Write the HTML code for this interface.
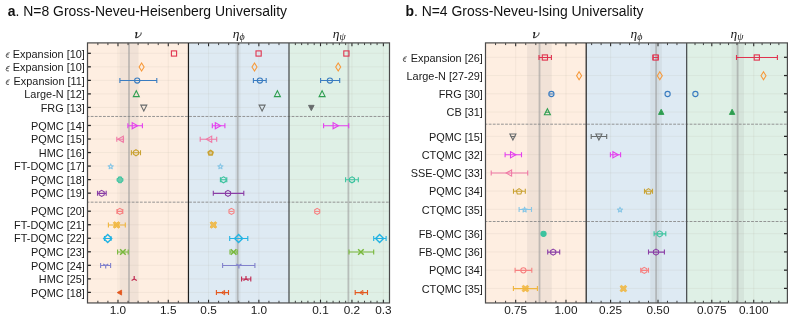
<!DOCTYPE html><html><head><meta charset="utf-8"><style>html,body{margin:0;padding:0;background:#fff;}svg{display:block;will-change:transform;font-family:"Liberation Sans",sans-serif;}</style></head><body>
<svg width="793" height="323" viewBox="0 0 793 323">
<rect width="793" height="323" fill="#fff"/>
<rect x="87.50" y="42.9" width="100.95" height="260.05" fill="#feeee1"/>
<rect x="188.45" y="42.9" width="100.55" height="260.05" fill="#deeaf3"/>
<rect x="289.00" y="42.9" width="100.50" height="260.05" fill="#dff0e6"/>
<rect x="119.40" y="42.9" width="19.20" height="260.05" fill="#8a8a8a" fill-opacity="0.11"/>
<rect x="235.00" y="42.9" width="5.60" height="260.05" fill="#8a8a8a" fill-opacity="0.11"/>
<line x1="87.5" x2="389.5" y1="53.30" y2="53.30" stroke="#b0a498" stroke-opacity="0.16" stroke-width="0.8"/>
<line x1="87.5" x2="389.5" y1="66.83" y2="66.83" stroke="#b0a498" stroke-opacity="0.16" stroke-width="0.8"/>
<line x1="87.5" x2="389.5" y1="80.37" y2="80.37" stroke="#b0a498" stroke-opacity="0.16" stroke-width="0.8"/>
<line x1="87.5" x2="389.5" y1="93.90" y2="93.90" stroke="#b0a498" stroke-opacity="0.16" stroke-width="0.8"/>
<line x1="87.5" x2="389.5" y1="107.44" y2="107.44" stroke="#b0a498" stroke-opacity="0.16" stroke-width="0.8"/>
<line x1="87.5" x2="389.5" y1="125.48" y2="125.48" stroke="#b0a498" stroke-opacity="0.16" stroke-width="0.8"/>
<line x1="87.5" x2="389.5" y1="139.02" y2="139.02" stroke="#b0a498" stroke-opacity="0.16" stroke-width="0.8"/>
<line x1="87.5" x2="389.5" y1="152.55" y2="152.55" stroke="#b0a498" stroke-opacity="0.16" stroke-width="0.8"/>
<line x1="87.5" x2="389.5" y1="166.08" y2="166.08" stroke="#b0a498" stroke-opacity="0.16" stroke-width="0.8"/>
<line x1="87.5" x2="389.5" y1="179.62" y2="179.62" stroke="#b0a498" stroke-opacity="0.16" stroke-width="0.8"/>
<line x1="87.5" x2="389.5" y1="193.15" y2="193.15" stroke="#b0a498" stroke-opacity="0.16" stroke-width="0.8"/>
<line x1="87.5" x2="389.5" y1="211.20" y2="211.20" stroke="#b0a498" stroke-opacity="0.16" stroke-width="0.8"/>
<line x1="87.5" x2="389.5" y1="224.73" y2="224.73" stroke="#b0a498" stroke-opacity="0.16" stroke-width="0.8"/>
<line x1="87.5" x2="389.5" y1="238.26" y2="238.26" stroke="#b0a498" stroke-opacity="0.16" stroke-width="0.8"/>
<line x1="87.5" x2="389.5" y1="251.80" y2="251.80" stroke="#b0a498" stroke-opacity="0.16" stroke-width="0.8"/>
<line x1="87.5" x2="389.5" y1="265.33" y2="265.33" stroke="#b0a498" stroke-opacity="0.16" stroke-width="0.8"/>
<line x1="87.5" x2="389.5" y1="278.87" y2="278.87" stroke="#b0a498" stroke-opacity="0.16" stroke-width="0.8"/>
<line x1="87.5" x2="389.5" y1="292.40" y2="292.40" stroke="#b0a498" stroke-opacity="0.16" stroke-width="0.8"/>
<line x1="117.98" x2="117.98" y1="42.9" y2="302.95" stroke="#b0a498" stroke-opacity="0.16" stroke-width="0.8"/>
<line x1="168.28" x2="168.28" y1="42.9" y2="302.95" stroke="#b0a498" stroke-opacity="0.16" stroke-width="0.8"/>
<line x1="208.55" x2="208.55" y1="42.9" y2="302.95" stroke="#b0a498" stroke-opacity="0.16" stroke-width="0.8"/>
<line x1="258.85" x2="258.85" y1="42.9" y2="302.95" stroke="#b0a498" stroke-opacity="0.16" stroke-width="0.8"/>
<line x1="320.50" x2="320.50" y1="42.9" y2="302.95" stroke="#b0a498" stroke-opacity="0.16" stroke-width="0.8"/>
<line x1="351.94" x2="351.94" y1="42.9" y2="302.95" stroke="#b0a498" stroke-opacity="0.16" stroke-width="0.8"/>
<line x1="383.38" x2="383.38" y1="42.9" y2="302.95" stroke="#b0a498" stroke-opacity="0.16" stroke-width="0.8"/>
<line x1="129.00" x2="129.00" y1="42.9" y2="302.95" stroke="#999999" stroke-opacity="0.58" stroke-width="1.8"/>
<line x1="237.70" x2="237.70" y1="42.9" y2="302.95" stroke="#999999" stroke-opacity="0.58" stroke-width="1.8"/>
<line x1="348.40" x2="348.40" y1="42.9" y2="302.95" stroke="#999999" stroke-opacity="0.58" stroke-width="1.8"/>
<line x1="87.5" x2="389.5" y1="116.46" y2="116.46" stroke="#8a8a8a" stroke-width="0.9" stroke-dasharray="2.8,1.3" stroke-dashoffset="0.9"/>
<line x1="87.5" x2="389.5" y1="202.17" y2="202.17" stroke="#8a8a8a" stroke-width="0.9" stroke-dasharray="2.8,1.3" stroke-dashoffset="0.9"/>
<rect x="171.40" y="50.90" width="5.2" height="5.2" stroke="#e0334f" stroke-width="1.1" fill="none" stroke-linejoin="miter"/>
<path d="M141.60 63.03 L144.10 67.03 L141.60 71.03 L139.10 67.03 Z" stroke="#f7993a" stroke-width="1.1" fill="none" stroke-linejoin="miter"/>
<g stroke="#3a7cc0" stroke-width="1.1" fill="none"><path d="M119.90 80.57 H156.80 M119.90 78.07 V83.07 M156.80 78.07 V83.07"/></g>
<circle cx="137.20" cy="80.57" r="2.6" stroke="#3a7cc0" stroke-width="1.1" fill="none" stroke-linejoin="miter"/>
<path d="M136.30 90.70 L139.30 96.60 L133.30 96.60 Z" stroke="#2e9e50" stroke-width="1.1" fill="none" stroke-linejoin="miter"/>
<path d="M143.80 111.04 L146.80 105.14 L140.80 105.14 Z" stroke="#676b6c" stroke-width="1.1" fill="none" stroke-linejoin="miter"/>
<g stroke="#e43fee" stroke-width="1.1" fill="none"><path d="M127.90 125.68 H142.40 M127.90 123.18 V128.18 M142.40 123.18 V128.18"/></g>
<path d="M137.60 125.68 L132.20 122.58 L132.20 128.78 Z" stroke="#e43fee" stroke-width="1.1" fill="none" stroke-linejoin="miter"/>
<g stroke="#f07aa6" stroke-width="1.1" fill="none"><path d="M116.80 139.22 H123.50 M116.80 136.72 V141.72 M123.50 136.72 V141.72"/></g>
<path d="M117.90 139.22 L123.30 136.12 L123.30 142.32 Z" stroke="#f07aa6" stroke-width="1.1" fill="none" stroke-linejoin="miter"/>
<g stroke="#c9a233" stroke-width="1.1" fill="none"><path d="M131.40 152.75 H140.50 M131.40 150.25 V155.25 M140.50 150.25 V155.25"/></g>
<path d="M136.00 149.75 L138.51 151.25 L138.51 154.25 L136.00 155.75 L133.49 154.25 L133.49 151.25 Z" stroke="#c9a233" stroke-width="1.1" fill="none" stroke-linejoin="miter"/>
<path d="M110.70 163.88 L111.41 165.61 L113.27 165.75 L111.84 166.95 L112.29 168.77 L110.70 167.78 L109.11 168.77 L109.56 166.95 L108.13 165.75 L109.99 165.61 Z" stroke="#88c6e6" stroke-width="1.1" fill="none" stroke-linejoin="round"/>
<path d="M118.55 176.92 L121.45 176.92 L121.45 178.37 L122.90 178.37 L122.90 181.27 L121.45 181.27 L121.45 182.72 L118.55 182.72 L118.55 181.27 L117.10 181.27 L117.10 178.37 L118.55 178.37 Z" stroke="#3cc39f" stroke-width="1.0" fill="#3cc39f" fill-opacity="0.75" stroke-linejoin="round"/>
<g stroke="#8a3ea6" stroke-width="1.1" fill="none"><path d="M97.50 193.35 H106.20 M97.50 190.85 V195.85 M106.20 190.85 V195.85"/></g>
<path d="M101.70 190.35 L104.21 191.85 L104.21 194.85 L101.70 196.35 L99.19 194.85 L99.19 191.85 Z" stroke="#8a3ea6" stroke-width="1.1" fill="none" stroke-linejoin="miter"/>
<g stroke="#f78080" stroke-width="1.1" fill="none"><path d="M117.00 211.40 H122.80 M117.00 208.90 V213.90 M122.80 208.90 V213.90"/></g>
<path d="M119.90 208.40 L122.41 209.90 L122.41 212.90 L119.90 214.40 L117.39 212.90 L117.39 209.90 Z" stroke="#f78080" stroke-width="1.1" fill="none" stroke-linejoin="miter"/>
<g stroke="#f0b53c" stroke-width="1.1" fill="none"><path d="M108.40 224.93 H125.30 M108.40 222.43 V227.43 M125.30 222.43 V227.43"/></g>
<path d="M116.60 223.06 L118.78 221.73 L119.80 222.75 L118.47 224.93 L119.80 227.11 L118.78 228.13 L116.60 226.80 L114.42 228.13 L113.40 227.11 L114.73 224.93 L113.40 222.75 L114.42 221.73 Z" stroke="#f0b53c" stroke-width="0.9" fill="#f0b53c" fill-opacity="0.85" stroke-linejoin="round"/>
<g stroke="#22b3e3" stroke-width="1.1" fill="none"><path d="M104.50 238.46 H111.00 M104.50 235.96 V240.96 M111.00 235.96 V240.96"/></g>
<path d="M107.70 234.46 L111.70 238.46 L107.70 242.46 L103.70 238.46 Z" stroke="#22b3e3" stroke-width="1.4" fill="none"/>
<g stroke="#78b83c" stroke-width="1.1" fill="none"><path d="M117.60 252.00 H128.20 M117.60 249.50 V254.50 M128.20 249.50 V254.50"/></g>
<path d="M120.10 249.30 L125.70 254.70 M120.10 254.70 L125.70 249.30" stroke="#78b83c" stroke-width="1.5"/>
<g stroke="#8282cc" stroke-width="1.1" fill="none"><path d="M100.60 265.53 H110.60 M100.60 263.03 V268.03 M110.60 263.03 V268.03"/></g>
<path d="M105.70 265.53 V268.53 M105.70 265.53 L103.10 264.03 M105.70 265.53 L108.30 264.03" stroke="#8282cc" stroke-width="1.2"/>
<path d="M134.20 279.07 V276.07 M134.20 279.07 L131.60 280.57 M134.20 279.07 L136.80 280.57" stroke="#c02850" stroke-width="1.2"/>
<path d="M118.00 292.60 H121.80" stroke="#e3581f" stroke-width="1.0"/>
<path d="M117.20 292.60 L121.60 290.10 L121.60 295.10 Z" stroke="#e3581f" stroke-width="0.8" fill="#e3581f"/>
<rect x="256.00" y="50.90" width="5.2" height="5.2" stroke="#e0334f" stroke-width="1.1" fill="none" stroke-linejoin="miter"/>
<path d="M254.50 63.03 L257.00 67.03 L254.50 71.03 L252.00 67.03 Z" stroke="#f7993a" stroke-width="1.1" fill="none" stroke-linejoin="miter"/>
<g stroke="#3a7cc0" stroke-width="1.1" fill="none"><path d="M253.40 80.57 H266.20 M253.40 78.07 V83.07 M266.20 78.07 V83.07"/></g>
<circle cx="259.90" cy="80.57" r="2.6" stroke="#3a7cc0" stroke-width="1.1" fill="none" stroke-linejoin="miter"/>
<path d="M277.40 90.70 L280.40 96.60 L274.40 96.60 Z" stroke="#2e9e50" stroke-width="1.1" fill="none" stroke-linejoin="miter"/>
<path d="M262.10 111.04 L265.10 105.14 L259.10 105.14 Z" stroke="#676b6c" stroke-width="1.1" fill="none" stroke-linejoin="miter"/>
<g stroke="#e43fee" stroke-width="1.1" fill="none"><path d="M212.30 125.68 H224.90 M212.30 123.18 V128.18 M224.90 123.18 V128.18"/></g>
<path d="M220.70 125.68 L215.30 122.58 L215.30 128.78 Z" stroke="#e43fee" stroke-width="1.1" fill="none" stroke-linejoin="miter"/>
<g stroke="#f07aa6" stroke-width="1.1" fill="none"><path d="M200.20 139.22 H216.70 M200.20 136.72 V141.72 M216.70 136.72 V141.72"/></g>
<path d="M206.30 139.22 L211.70 136.12 L211.70 142.32 Z" stroke="#f07aa6" stroke-width="1.1" fill="none" stroke-linejoin="miter"/>
<path d="M210.60 150.35 L213.07 152.15 L212.13 155.05 L209.07 155.05 L208.13 152.15 Z" stroke="#c9a233" stroke-width="1.6" fill="#c9a233" fill-opacity="0.4" stroke-linejoin="round"/>
<path d="M220.40 163.88 L221.11 165.61 L222.97 165.75 L221.54 166.95 L221.99 168.77 L220.40 167.78 L218.81 168.77 L219.26 166.95 L217.83 165.75 L219.69 165.61 Z" stroke="#88c6e6" stroke-width="1.1" fill="none" stroke-linejoin="round"/>
<g stroke="#3cc39f" stroke-width="1.1" fill="none"><path d="M220.40 179.82 H226.80 M220.40 177.32 V182.32 M226.80 177.32 V182.32"/></g>
<path d="M223.50 176.82 L226.01 178.32 L226.01 181.32 L223.50 182.82 L220.99 181.32 L220.99 178.32 Z" stroke="#3cc39f" stroke-width="1.1" fill="none" stroke-linejoin="miter"/>
<g stroke="#8a3ea6" stroke-width="1.1" fill="none"><path d="M213.30 193.35 H243.80 M213.30 190.85 V195.85 M243.80 190.85 V195.85"/></g>
<path d="M228.00 190.35 L230.51 191.85 L230.51 194.85 L228.00 196.35 L225.49 194.85 L225.49 191.85 Z" stroke="#8a3ea6" stroke-width="1.1" fill="none" stroke-linejoin="miter"/>
<path d="M229.50 211.40 H233.50" stroke="#f78080" stroke-width="1.0"/>
<path d="M231.50 208.40 L234.01 209.90 L234.01 212.90 L231.50 214.40 L228.99 212.90 L228.99 209.90 Z" stroke="#f78080" stroke-width="1.1" fill="none" stroke-linejoin="miter"/>
<path d="M213.40 223.06 L215.58 221.73 L216.60 222.75 L215.27 224.93 L216.60 227.11 L215.58 228.13 L213.40 226.80 L211.22 228.13 L210.20 227.11 L211.53 224.93 L210.20 222.75 L211.22 221.73 Z" stroke="#f0b53c" stroke-width="0.9" fill="#f0b53c" fill-opacity="0.85" stroke-linejoin="round"/>
<g stroke="#22b3e3" stroke-width="1.1" fill="none"><path d="M229.70 238.46 H247.80 M229.70 235.96 V240.96 M247.80 235.96 V240.96"/></g>
<path d="M238.60 234.46 L242.60 238.46 L238.60 242.46 L234.60 238.46 Z" stroke="#22b3e3" stroke-width="1.4" fill="none"/>
<g stroke="#78b83c" stroke-width="1.1" fill="none"><path d="M230.00 252.00 H237.20 M230.00 249.50 V254.50 M237.20 249.50 V254.50"/></g>
<path d="M230.80 249.30 L236.40 254.70 M230.80 254.70 L236.40 249.30" stroke="#78b83c" stroke-width="1.5"/>
<g stroke="#8282cc" stroke-width="1.1" fill="none"><path d="M222.60 265.53 H254.90 M222.60 263.03 V268.03 M254.90 263.03 V268.03"/></g>
<path d="M238.90 265.53 V268.53 M238.90 265.53 L236.30 264.03 M238.90 265.53 L241.50 264.03" stroke="#8282cc" stroke-width="1.2"/>
<g stroke="#c02850" stroke-width="1.1" fill="none"><path d="M241.60 279.07 H250.80 M241.60 276.57 V281.57 M250.80 276.57 V281.57"/></g>
<path d="M246.00 279.07 V276.07 M246.00 279.07 L243.40 280.57 M246.00 279.07 L248.60 280.57" stroke="#c02850" stroke-width="1.2"/>
<g stroke="#e3581f" stroke-width="1.1" fill="none"><path d="M216.40 292.60 H228.50 M216.40 290.10 V295.10 M228.50 290.10 V295.10"/></g>
<path d="M221.40 292.60 L224.60 290.40 L224.60 294.80 Z" stroke="#e3581f" stroke-width="1.0" fill="none"/>
<rect x="343.80" y="50.90" width="5.2" height="5.2" stroke="#e0334f" stroke-width="1.1" fill="none" stroke-linejoin="miter"/>
<path d="M338.20 63.03 L340.70 67.03 L338.20 71.03 L335.70 67.03 Z" stroke="#f7993a" stroke-width="1.1" fill="none" stroke-linejoin="miter"/>
<g stroke="#3a7cc0" stroke-width="1.1" fill="none"><path d="M320.60 80.57 H339.70 M320.60 78.07 V83.07 M339.70 78.07 V83.07"/></g>
<circle cx="329.90" cy="80.57" r="2.6" stroke="#3a7cc0" stroke-width="1.1" fill="none" stroke-linejoin="miter"/>
<path d="M322.10 90.70 L325.10 96.60 L319.10 96.60 Z" stroke="#2e9e50" stroke-width="1.1" fill="none" stroke-linejoin="miter"/>
<path d="M311.30 110.64 L314.10 105.34 L308.50 105.34 Z" stroke="#676b6c" stroke-width="0.9" fill="#676b6c"/>
<g stroke="#e43fee" stroke-width="1.1" fill="none"><path d="M323.60 125.68 H348.70 M323.60 123.18 V128.18 M348.70 123.18 V128.18"/></g>
<path d="M338.50 125.68 L333.10 122.58 L333.10 128.78 Z" stroke="#e43fee" stroke-width="1.1" fill="none" stroke-linejoin="miter"/>
<g stroke="#3cc39f" stroke-width="1.1" fill="none"><path d="M345.60 179.82 H358.30 M345.60 177.32 V182.32 M358.30 177.32 V182.32"/></g>
<path d="M352.00 176.82 L354.51 178.32 L354.51 181.32 L352.00 182.82 L349.49 181.32 L349.49 178.32 Z" stroke="#3cc39f" stroke-width="1.1" fill="none" stroke-linejoin="miter"/>
<path d="M315.00 211.40 H319.40" stroke="#f78080" stroke-width="1.0"/>
<path d="M317.20 208.40 L319.71 209.90 L319.71 212.90 L317.20 214.40 L314.69 212.90 L314.69 209.90 Z" stroke="#f78080" stroke-width="1.1" fill="none" stroke-linejoin="miter"/>
<g stroke="#22b3e3" stroke-width="1.1" fill="none"><path d="M373.70 238.46 H386.10 M373.70 235.96 V240.96 M386.10 235.96 V240.96"/></g>
<path d="M379.60 234.46 L383.60 238.46 L379.60 242.46 L375.60 238.46 Z" stroke="#22b3e3" stroke-width="1.4" fill="none"/>
<g stroke="#78b83c" stroke-width="1.1" fill="none"><path d="M349.00 252.00 H373.70 M349.00 249.50 V254.50 M373.70 249.50 V254.50"/></g>
<path d="M358.10 249.30 L363.70 254.70 M358.10 254.70 L363.70 249.30" stroke="#78b83c" stroke-width="1.5"/>
<g stroke="#e3581f" stroke-width="1.1" fill="none"><path d="M355.20 292.60 H367.50 M355.20 290.10 V295.10 M367.50 290.10 V295.10"/></g>
<path d="M359.70 292.60 L362.90 290.40 L362.90 294.80 Z" stroke="#e3581f" stroke-width="1.0" fill="none"/>
<line x1="97.86" x2="97.86" y1="302.95" y2="300.75" stroke="#2a2a2a" stroke-width="0.9"/>
<line x1="97.86" x2="97.86" y1="42.9" y2="45.1" stroke="#2a2a2a" stroke-width="0.9"/>
<line x1="107.92" x2="107.92" y1="302.95" y2="300.75" stroke="#2a2a2a" stroke-width="0.9"/>
<line x1="107.92" x2="107.92" y1="42.9" y2="45.1" stroke="#2a2a2a" stroke-width="0.9"/>
<line x1="128.04" x2="128.04" y1="302.95" y2="300.75" stroke="#2a2a2a" stroke-width="0.9"/>
<line x1="128.04" x2="128.04" y1="42.9" y2="45.1" stroke="#2a2a2a" stroke-width="0.9"/>
<line x1="138.10" x2="138.10" y1="302.95" y2="300.75" stroke="#2a2a2a" stroke-width="0.9"/>
<line x1="138.10" x2="138.10" y1="42.9" y2="45.1" stroke="#2a2a2a" stroke-width="0.9"/>
<line x1="148.16" x2="148.16" y1="302.95" y2="300.75" stroke="#2a2a2a" stroke-width="0.9"/>
<line x1="148.16" x2="148.16" y1="42.9" y2="45.1" stroke="#2a2a2a" stroke-width="0.9"/>
<line x1="158.22" x2="158.22" y1="302.95" y2="300.75" stroke="#2a2a2a" stroke-width="0.9"/>
<line x1="158.22" x2="158.22" y1="42.9" y2="45.1" stroke="#2a2a2a" stroke-width="0.9"/>
<line x1="178.34" x2="178.34" y1="302.95" y2="300.75" stroke="#2a2a2a" stroke-width="0.9"/>
<line x1="178.34" x2="178.34" y1="42.9" y2="45.1" stroke="#2a2a2a" stroke-width="0.9"/>
<line x1="117.98" x2="117.98" y1="302.95" y2="299.65" stroke="#2a2a2a" stroke-width="1.1"/>
<line x1="117.98" x2="117.98" y1="42.9" y2="46.199999999999996" stroke="#2a2a2a" stroke-width="1.1"/>
<text x="117.98" y="314.1" font-size="11.8" text-anchor="middle" fill="#1a1a1a">1.0</text>
<line x1="168.28" x2="168.28" y1="302.95" y2="299.65" stroke="#2a2a2a" stroke-width="1.1"/>
<line x1="168.28" x2="168.28" y1="42.9" y2="46.199999999999996" stroke="#2a2a2a" stroke-width="1.1"/>
<text x="168.28" y="314.1" font-size="11.8" text-anchor="middle" fill="#1a1a1a">1.5</text>
<line x1="198.49" x2="198.49" y1="302.95" y2="300.75" stroke="#2a2a2a" stroke-width="0.9"/>
<line x1="198.49" x2="198.49" y1="42.9" y2="45.1" stroke="#2a2a2a" stroke-width="0.9"/>
<line x1="218.61" x2="218.61" y1="302.95" y2="300.75" stroke="#2a2a2a" stroke-width="0.9"/>
<line x1="218.61" x2="218.61" y1="42.9" y2="45.1" stroke="#2a2a2a" stroke-width="0.9"/>
<line x1="228.67" x2="228.67" y1="302.95" y2="300.75" stroke="#2a2a2a" stroke-width="0.9"/>
<line x1="228.67" x2="228.67" y1="42.9" y2="45.1" stroke="#2a2a2a" stroke-width="0.9"/>
<line x1="238.73" x2="238.73" y1="302.95" y2="300.75" stroke="#2a2a2a" stroke-width="0.9"/>
<line x1="238.73" x2="238.73" y1="42.9" y2="45.1" stroke="#2a2a2a" stroke-width="0.9"/>
<line x1="248.79" x2="248.79" y1="302.95" y2="300.75" stroke="#2a2a2a" stroke-width="0.9"/>
<line x1="248.79" x2="248.79" y1="42.9" y2="45.1" stroke="#2a2a2a" stroke-width="0.9"/>
<line x1="268.91" x2="268.91" y1="302.95" y2="300.75" stroke="#2a2a2a" stroke-width="0.9"/>
<line x1="268.91" x2="268.91" y1="42.9" y2="45.1" stroke="#2a2a2a" stroke-width="0.9"/>
<line x1="278.97" x2="278.97" y1="302.95" y2="300.75" stroke="#2a2a2a" stroke-width="0.9"/>
<line x1="278.97" x2="278.97" y1="42.9" y2="45.1" stroke="#2a2a2a" stroke-width="0.9"/>
<line x1="208.55" x2="208.55" y1="302.95" y2="299.65" stroke="#2a2a2a" stroke-width="1.1"/>
<line x1="208.55" x2="208.55" y1="42.9" y2="46.199999999999996" stroke="#2a2a2a" stroke-width="1.1"/>
<text x="208.55" y="314.1" font-size="11.8" text-anchor="middle" fill="#1a1a1a">0.5</text>
<line x1="258.85" x2="258.85" y1="302.95" y2="299.65" stroke="#2a2a2a" stroke-width="1.1"/>
<line x1="258.85" x2="258.85" y1="42.9" y2="46.199999999999996" stroke="#2a2a2a" stroke-width="1.1"/>
<text x="258.85" y="314.1" font-size="11.8" text-anchor="middle" fill="#1a1a1a">1.0</text>
<line x1="295.35" x2="295.35" y1="302.95" y2="300.75" stroke="#2a2a2a" stroke-width="0.9"/>
<line x1="295.35" x2="295.35" y1="42.9" y2="45.1" stroke="#2a2a2a" stroke-width="0.9"/>
<line x1="301.64" x2="301.64" y1="302.95" y2="300.75" stroke="#2a2a2a" stroke-width="0.9"/>
<line x1="301.64" x2="301.64" y1="42.9" y2="45.1" stroke="#2a2a2a" stroke-width="0.9"/>
<line x1="307.92" x2="307.92" y1="302.95" y2="300.75" stroke="#2a2a2a" stroke-width="0.9"/>
<line x1="307.92" x2="307.92" y1="42.9" y2="45.1" stroke="#2a2a2a" stroke-width="0.9"/>
<line x1="314.21" x2="314.21" y1="302.95" y2="300.75" stroke="#2a2a2a" stroke-width="0.9"/>
<line x1="314.21" x2="314.21" y1="42.9" y2="45.1" stroke="#2a2a2a" stroke-width="0.9"/>
<line x1="326.79" x2="326.79" y1="302.95" y2="300.75" stroke="#2a2a2a" stroke-width="0.9"/>
<line x1="326.79" x2="326.79" y1="42.9" y2="45.1" stroke="#2a2a2a" stroke-width="0.9"/>
<line x1="333.08" x2="333.08" y1="302.95" y2="300.75" stroke="#2a2a2a" stroke-width="0.9"/>
<line x1="333.08" x2="333.08" y1="42.9" y2="45.1" stroke="#2a2a2a" stroke-width="0.9"/>
<line x1="339.36" x2="339.36" y1="302.95" y2="300.75" stroke="#2a2a2a" stroke-width="0.9"/>
<line x1="339.36" x2="339.36" y1="42.9" y2="45.1" stroke="#2a2a2a" stroke-width="0.9"/>
<line x1="345.65" x2="345.65" y1="302.95" y2="300.75" stroke="#2a2a2a" stroke-width="0.9"/>
<line x1="345.65" x2="345.65" y1="42.9" y2="45.1" stroke="#2a2a2a" stroke-width="0.9"/>
<line x1="358.23" x2="358.23" y1="302.95" y2="300.75" stroke="#2a2a2a" stroke-width="0.9"/>
<line x1="358.23" x2="358.23" y1="42.9" y2="45.1" stroke="#2a2a2a" stroke-width="0.9"/>
<line x1="364.52" x2="364.52" y1="302.95" y2="300.75" stroke="#2a2a2a" stroke-width="0.9"/>
<line x1="364.52" x2="364.52" y1="42.9" y2="45.1" stroke="#2a2a2a" stroke-width="0.9"/>
<line x1="370.80" x2="370.80" y1="302.95" y2="300.75" stroke="#2a2a2a" stroke-width="0.9"/>
<line x1="370.80" x2="370.80" y1="42.9" y2="45.1" stroke="#2a2a2a" stroke-width="0.9"/>
<line x1="377.09" x2="377.09" y1="302.95" y2="300.75" stroke="#2a2a2a" stroke-width="0.9"/>
<line x1="377.09" x2="377.09" y1="42.9" y2="45.1" stroke="#2a2a2a" stroke-width="0.9"/>
<line x1="320.50" x2="320.50" y1="302.95" y2="299.65" stroke="#2a2a2a" stroke-width="1.1"/>
<line x1="320.50" x2="320.50" y1="42.9" y2="46.199999999999996" stroke="#2a2a2a" stroke-width="1.1"/>
<text x="320.50" y="314.1" font-size="11.8" text-anchor="middle" fill="#1a1a1a">0.1</text>
<line x1="351.94" x2="351.94" y1="302.95" y2="299.65" stroke="#2a2a2a" stroke-width="1.1"/>
<line x1="351.94" x2="351.94" y1="42.9" y2="46.199999999999996" stroke="#2a2a2a" stroke-width="1.1"/>
<text x="351.94" y="314.1" font-size="11.8" text-anchor="middle" fill="#1a1a1a">0.2</text>
<line x1="383.38" x2="383.38" y1="302.95" y2="299.65" stroke="#2a2a2a" stroke-width="1.1"/>
<line x1="383.38" x2="383.38" y1="42.9" y2="46.199999999999996" stroke="#2a2a2a" stroke-width="1.1"/>
<text x="383.38" y="314.1" font-size="11.8" text-anchor="middle" fill="#1a1a1a">0.3</text>
<line x1="87.5" x2="90.9" y1="53.30" y2="53.30" stroke="#222" stroke-width="1.25"/>
<line x1="87.5" x2="90.9" y1="66.83" y2="66.83" stroke="#222" stroke-width="1.25"/>
<line x1="87.5" x2="90.9" y1="80.37" y2="80.37" stroke="#222" stroke-width="1.25"/>
<line x1="87.5" x2="90.9" y1="93.90" y2="93.90" stroke="#222" stroke-width="1.25"/>
<line x1="87.5" x2="90.9" y1="107.44" y2="107.44" stroke="#222" stroke-width="1.25"/>
<line x1="87.5" x2="90.9" y1="125.48" y2="125.48" stroke="#222" stroke-width="1.25"/>
<line x1="87.5" x2="90.9" y1="139.02" y2="139.02" stroke="#222" stroke-width="1.25"/>
<line x1="87.5" x2="90.9" y1="152.55" y2="152.55" stroke="#222" stroke-width="1.25"/>
<line x1="87.5" x2="90.9" y1="166.08" y2="166.08" stroke="#222" stroke-width="1.25"/>
<line x1="87.5" x2="90.9" y1="179.62" y2="179.62" stroke="#222" stroke-width="1.25"/>
<line x1="87.5" x2="90.9" y1="193.15" y2="193.15" stroke="#222" stroke-width="1.25"/>
<line x1="87.5" x2="90.9" y1="211.20" y2="211.20" stroke="#222" stroke-width="1.25"/>
<line x1="87.5" x2="90.9" y1="224.73" y2="224.73" stroke="#222" stroke-width="1.25"/>
<line x1="87.5" x2="90.9" y1="238.26" y2="238.26" stroke="#222" stroke-width="1.25"/>
<line x1="87.5" x2="90.9" y1="251.80" y2="251.80" stroke="#222" stroke-width="1.25"/>
<line x1="87.5" x2="90.9" y1="265.33" y2="265.33" stroke="#222" stroke-width="1.25"/>
<line x1="87.5" x2="90.9" y1="278.87" y2="278.87" stroke="#222" stroke-width="1.25"/>
<line x1="87.5" x2="90.9" y1="292.40" y2="292.40" stroke="#222" stroke-width="1.25"/>
<rect x="87.5" y="42.9" width="302.00" height="260.05" fill="none" stroke="#4a4a4a" stroke-width="1.2"/>
<line x1="188.45" x2="188.45" y1="42.9" y2="302.95" stroke="#1e1e1e" stroke-width="1.2"/>
<line x1="289.00" x2="289.00" y1="42.9" y2="302.95" stroke="#4e5254" stroke-width="1.3"/>
<path d="M9.70 52.70 Q6.50 52.40 6.10 55.90 Q6.10 57.90 8.90 57.40 M6.60 54.90 L8.60 54.70" stroke="#333" stroke-width="0.8" fill="none"/>
<text x="84.90" y="57.50" font-size="11.6" textLength="72.11" lengthAdjust="spacingAndGlyphs" text-anchor="end" fill="#1a1a1a">Expansion [10]</text>
<path d="M9.70 66.23 Q6.50 65.93 6.10 69.43 Q6.10 71.43 8.90 70.93 M6.60 68.43 L8.60 68.23" stroke="#333" stroke-width="0.8" fill="none"/>
<text x="84.90" y="71.03" font-size="11.6" textLength="72.11" lengthAdjust="spacingAndGlyphs" text-anchor="end" fill="#1a1a1a">Expansion [10]</text>
<path d="M9.70 79.77 Q6.50 79.47 6.10 82.97 Q6.10 84.97 8.90 84.47 M6.60 81.97 L8.60 81.77" stroke="#333" stroke-width="0.8" fill="none"/>
<text x="84.90" y="84.57" font-size="11.6" textLength="71.30" lengthAdjust="spacingAndGlyphs" text-anchor="end" fill="#1a1a1a">Expansion [11]</text>
<text x="84.90" y="98.10" font-size="11.6" textLength="60.59" lengthAdjust="spacingAndGlyphs" text-anchor="end" fill="#1a1a1a">Large-N [12]</text>
<text x="84.90" y="111.64" font-size="11.6" textLength="44.22" lengthAdjust="spacingAndGlyphs" text-anchor="end" fill="#1a1a1a">FRG [13]</text>
<text x="84.90" y="129.68" font-size="11.6" textLength="53.91" lengthAdjust="spacingAndGlyphs" text-anchor="end" fill="#1a1a1a">PQMC [14]</text>
<text x="84.90" y="143.22" font-size="11.6" textLength="53.91" lengthAdjust="spacingAndGlyphs" text-anchor="end" fill="#1a1a1a">PQMC [15]</text>
<text x="84.90" y="156.75" font-size="11.6" textLength="46.03" lengthAdjust="spacingAndGlyphs" text-anchor="end" fill="#1a1a1a">HMC [16]</text>
<text x="84.90" y="170.28" font-size="11.6" textLength="70.86" lengthAdjust="spacingAndGlyphs" text-anchor="end" fill="#1a1a1a">FT-DQMC [17]</text>
<text x="84.90" y="183.82" font-size="11.6" textLength="53.91" lengthAdjust="spacingAndGlyphs" text-anchor="end" fill="#1a1a1a">PQMC [18]</text>
<text x="84.90" y="197.35" font-size="11.6" textLength="53.91" lengthAdjust="spacingAndGlyphs" text-anchor="end" fill="#1a1a1a">PQMC [19]</text>
<text x="84.90" y="215.40" font-size="11.6" textLength="53.91" lengthAdjust="spacingAndGlyphs" text-anchor="end" fill="#1a1a1a">PQMC [20]</text>
<text x="84.90" y="228.93" font-size="11.6" textLength="70.86" lengthAdjust="spacingAndGlyphs" text-anchor="end" fill="#1a1a1a">FT-DQMC [21]</text>
<text x="84.90" y="242.46" font-size="11.6" textLength="70.86" lengthAdjust="spacingAndGlyphs" text-anchor="end" fill="#1a1a1a">FT-DQMC [22]</text>
<text x="84.90" y="256.00" font-size="11.6" textLength="53.91" lengthAdjust="spacingAndGlyphs" text-anchor="end" fill="#1a1a1a">PQMC [23]</text>
<text x="84.90" y="269.53" font-size="11.6" textLength="53.91" lengthAdjust="spacingAndGlyphs" text-anchor="end" fill="#1a1a1a">PQMC [24]</text>
<text x="84.90" y="283.07" font-size="11.6" textLength="46.03" lengthAdjust="spacingAndGlyphs" text-anchor="end" fill="#1a1a1a">HMC [25]</text>
<text x="84.90" y="296.60" font-size="11.6" textLength="53.91" lengthAdjust="spacingAndGlyphs" text-anchor="end" fill="#1a1a1a">PQMC [18]</text>
<path d="M135.17 33.0 L136.87 32.6 L135.67 37.9" stroke="#1a1a1a" stroke-width="1.25" fill="none" stroke-linejoin="round"/>
<path d="M135.67 37.9 C138.97 37.2 141.37 35.2 141.17 32.5" stroke="#1a1a1a" stroke-width="1.0" fill="none"/>
<text x="238.72" y="38" font-family="Liberation Serif" font-size="13.5" text-anchor="middle" fill="#1a1a1a"><tspan font-style="italic">η</tspan><tspan font-style="italic" font-size="10" dy="2.3">ϕ</tspan></text>
<text x="339.25" y="38" font-family="Liberation Serif" font-size="13.5" text-anchor="middle" fill="#1a1a1a"><tspan font-style="italic">η</tspan><tspan font-style="italic" font-size="10" dy="2.3">ψ</tspan></text>
<text x="7.8" y="16.1" font-size="14" textLength="279.24" lengthAdjust="spacingAndGlyphs" fill="#111"><tspan font-weight="bold">a</tspan>. N=8 Gross-Neveu-Heisenberg Universality</text>
<rect x="485.50" y="42.9" width="100.70" height="260.05" fill="#feeee1"/>
<rect x="586.20" y="42.9" width="100.45" height="260.05" fill="#deeaf3"/>
<rect x="686.65" y="42.9" width="100.75" height="260.05" fill="#dff0e6"/>
<rect x="527.10" y="42.9" width="24.70" height="260.05" fill="#8a8a8a" fill-opacity="0.11"/>
<rect x="650.30" y="42.9" width="11.60" height="260.05" fill="#8a8a8a" fill-opacity="0.11"/>
<rect x="731.60" y="42.9" width="12.40" height="260.05" fill="#8a8a8a" fill-opacity="0.11"/>
<line x1="485.5" x2="787.4" y1="57.30" y2="57.30" stroke="#b0a498" stroke-opacity="0.16" stroke-width="0.8"/>
<line x1="485.5" x2="787.4" y1="75.55" y2="75.55" stroke="#b0a498" stroke-opacity="0.16" stroke-width="0.8"/>
<line x1="485.5" x2="787.4" y1="93.79" y2="93.79" stroke="#b0a498" stroke-opacity="0.16" stroke-width="0.8"/>
<line x1="485.5" x2="787.4" y1="112.03" y2="112.03" stroke="#b0a498" stroke-opacity="0.16" stroke-width="0.8"/>
<line x1="485.5" x2="787.4" y1="136.36" y2="136.36" stroke="#b0a498" stroke-opacity="0.16" stroke-width="0.8"/>
<line x1="485.5" x2="787.4" y1="154.61" y2="154.61" stroke="#b0a498" stroke-opacity="0.16" stroke-width="0.8"/>
<line x1="485.5" x2="787.4" y1="172.85" y2="172.85" stroke="#b0a498" stroke-opacity="0.16" stroke-width="0.8"/>
<line x1="485.5" x2="787.4" y1="191.10" y2="191.10" stroke="#b0a498" stroke-opacity="0.16" stroke-width="0.8"/>
<line x1="485.5" x2="787.4" y1="209.34" y2="209.34" stroke="#b0a498" stroke-opacity="0.16" stroke-width="0.8"/>
<line x1="485.5" x2="787.4" y1="233.67" y2="233.67" stroke="#b0a498" stroke-opacity="0.16" stroke-width="0.8"/>
<line x1="485.5" x2="787.4" y1="251.91" y2="251.91" stroke="#b0a498" stroke-opacity="0.16" stroke-width="0.8"/>
<line x1="485.5" x2="787.4" y1="270.16" y2="270.16" stroke="#b0a498" stroke-opacity="0.16" stroke-width="0.8"/>
<line x1="485.5" x2="787.4" y1="288.40" y2="288.40" stroke="#b0a498" stroke-opacity="0.16" stroke-width="0.8"/>
<line x1="515.68" x2="515.68" y1="42.9" y2="302.95" stroke="#b0a498" stroke-opacity="0.16" stroke-width="0.8"/>
<line x1="565.98" x2="565.98" y1="42.9" y2="302.95" stroke="#b0a498" stroke-opacity="0.16" stroke-width="0.8"/>
<line x1="610.60" x2="610.60" y1="42.9" y2="302.95" stroke="#b0a498" stroke-opacity="0.16" stroke-width="0.8"/>
<line x1="658.00" x2="658.00" y1="42.9" y2="302.95" stroke="#b0a498" stroke-opacity="0.16" stroke-width="0.8"/>
<line x1="711.80" x2="711.80" y1="42.9" y2="302.95" stroke="#b0a498" stroke-opacity="0.16" stroke-width="0.8"/>
<line x1="753.72" x2="753.72" y1="42.9" y2="302.95" stroke="#b0a498" stroke-opacity="0.16" stroke-width="0.8"/>
<line x1="539.50" x2="539.50" y1="42.9" y2="302.95" stroke="#999999" stroke-opacity="0.58" stroke-width="1.8"/>
<line x1="656.10" x2="656.10" y1="42.9" y2="302.95" stroke="#999999" stroke-opacity="0.58" stroke-width="1.8"/>
<line x1="737.60" x2="737.60" y1="42.9" y2="302.95" stroke="#999999" stroke-opacity="0.58" stroke-width="1.8"/>
<line x1="485.5" x2="787.4" y1="124.20" y2="124.20" stroke="#8a8a8a" stroke-width="0.9" stroke-dasharray="2.8,1.3" stroke-dashoffset="0.9"/>
<line x1="485.5" x2="787.4" y1="221.51" y2="221.51" stroke="#8a8a8a" stroke-width="0.9" stroke-dasharray="2.8,1.3" stroke-dashoffset="0.9"/>
<g stroke="#e0334f" stroke-width="1.1" fill="none"><path d="M539.00 57.50 H551.40 M539.00 55.00 V60.00 M551.40 55.00 V60.00"/></g>
<rect x="542.30" y="54.90" width="5.2" height="5.2" stroke="#e0334f" stroke-width="1.1" fill="none" stroke-linejoin="miter"/>
<path d="M579.10 71.75 L581.60 75.75 L579.10 79.75 L576.60 75.75 Z" stroke="#f7993a" stroke-width="1.1" fill="none" stroke-linejoin="miter"/>
<path d="M549.00 93.99 H553.80" stroke="#3a7cc0" stroke-width="1.0"/>
<circle cx="551.40" cy="93.99" r="2.6" stroke="#3a7cc0" stroke-width="1.1" fill="none" stroke-linejoin="miter"/>
<path d="M545.50 112.23 H549.30" stroke="#2e9e50" stroke-width="1.0"/>
<path d="M547.40 108.83 L550.40 114.73 L544.40 114.73 Z" stroke="#2e9e50" stroke-width="1.1" fill="none" stroke-linejoin="miter"/>
<path d="M510.50 136.56 H515.30" stroke="#676b6c" stroke-width="1.0"/>
<path d="M512.90 139.96 L515.90 134.06 L509.90 134.06 Z" stroke="#676b6c" stroke-width="1.1" fill="none" stroke-linejoin="miter"/>
<g stroke="#e43fee" stroke-width="1.1" fill="none"><path d="M505.10 154.81 H521.50 M505.10 152.31 V157.31 M521.50 152.31 V157.31"/></g>
<path d="M515.90 154.81 L510.50 151.71 L510.50 157.91 Z" stroke="#e43fee" stroke-width="1.1" fill="none" stroke-linejoin="miter"/>
<g stroke="#f07aa6" stroke-width="1.1" fill="none"><path d="M491.20 173.05 H527.70 M491.20 170.55 V175.55 M527.70 170.55 V175.55"/></g>
<path d="M506.20 173.05 L511.60 169.95 L511.60 176.15 Z" stroke="#f07aa6" stroke-width="1.1" fill="none" stroke-linejoin="miter"/>
<g stroke="#c9a233" stroke-width="1.1" fill="none"><path d="M513.50 191.30 H525.30 M513.50 188.80 V193.80 M525.30 188.80 V193.80"/></g>
<path d="M519.10 188.60 L521.95 190.67 L520.86 194.02 L517.34 194.02 L516.25 190.67 Z" stroke="#c9a233" stroke-width="1.1" fill="none" stroke-linejoin="miter"/>
<g stroke="#88c6e6" stroke-width="1.1" fill="none"><path d="M519.10 209.54 H531.50 M519.10 207.04 V212.04 M531.50 207.04 V212.04"/></g>
<path d="M524.60 207.14 L525.31 208.87 L527.17 209.01 L525.74 210.21 L526.19 212.03 L524.60 211.04 L523.01 212.03 L523.46 210.21 L522.03 209.01 L523.89 208.87 Z" stroke="#88c6e6" stroke-width="1.1" fill="none" stroke-linejoin="round"/>
<circle cx="543.50" cy="233.87" r="2.6" stroke="#3cc39f" stroke-width="1.1" fill="#3cc39f" stroke-linejoin="miter"/>
<g stroke="#8a3ea6" stroke-width="1.1" fill="none"><path d="M547.70 252.11 H559.70 M547.70 249.61 V254.61 M559.70 249.61 V254.61"/></g>
<path d="M553.20 249.11 L555.71 250.61 L555.71 253.61 L553.20 255.11 L550.69 253.61 L550.69 250.61 Z" stroke="#8a3ea6" stroke-width="1.1" fill="none" stroke-linejoin="miter"/>
<g stroke="#f78080" stroke-width="1.1" fill="none"><path d="M515.10 270.36 H531.80 M515.10 267.86 V272.86 M531.80 267.86 V272.86"/></g>
<circle cx="523.40" cy="270.36" r="2.6" stroke="#f78080" stroke-width="1.1" fill="none" stroke-linejoin="miter"/>
<g stroke="#f0b53c" stroke-width="1.1" fill="none"><path d="M513.40 288.60 H537.40 M513.40 286.10 V291.10 M537.40 286.10 V291.10"/></g>
<path d="M525.40 286.73 L527.58 285.40 L528.60 286.42 L527.27 288.60 L528.60 290.78 L527.58 291.80 L525.40 290.47 L523.22 291.80 L522.20 290.78 L523.53 288.60 L522.20 286.42 L523.22 285.40 Z" stroke="#f0b53c" stroke-width="0.9" fill="#f0b53c" fill-opacity="0.85" stroke-linejoin="round"/>
<g stroke="#e0334f" stroke-width="1.1" fill="none"><path d="M653.00 57.50 H658.20 M653.00 55.00 V60.00 M658.20 55.00 V60.00"/></g>
<rect x="653.00" y="54.90" width="5.2" height="5.2" stroke="#e0334f" stroke-width="1.1" fill="none" stroke-linejoin="miter"/>
<path d="M659.80 71.75 L662.30 75.75 L659.80 79.75 L657.30 75.75 Z" stroke="#f7993a" stroke-width="1.1" fill="none" stroke-linejoin="miter"/>
<circle cx="667.60" cy="93.99" r="2.6" stroke="#3a7cc0" stroke-width="1.1" fill="none" stroke-linejoin="miter"/>
<path d="M661.20 109.23 L663.90 114.44 L658.50 114.44 Z" stroke="#2e9e50" stroke-width="0.9" fill="#2e9e50"/>
<g stroke="#676b6c" stroke-width="1.1" fill="none"><path d="M591.20 136.56 H606.70 M591.20 134.06 V139.06 M606.70 134.06 V139.06"/></g>
<path d="M598.90 139.96 L601.90 134.06 L595.90 134.06 Z" stroke="#676b6c" stroke-width="1.1" fill="none" stroke-linejoin="miter"/>
<g stroke="#e43fee" stroke-width="1.1" fill="none"><path d="M610.40 154.81 H620.60 M610.40 152.31 V157.31 M620.60 152.31 V157.31"/></g>
<path d="M618.30 154.81 L612.90 151.71 L612.90 157.91 Z" stroke="#e43fee" stroke-width="1.1" fill="none" stroke-linejoin="miter"/>
<g stroke="#c9a233" stroke-width="1.1" fill="none"><path d="M644.50 191.30 H652.50 M644.50 188.80 V193.80 M652.50 188.80 V193.80"/></g>
<path d="M648.50 188.60 L651.35 190.67 L650.26 194.02 L646.74 194.02 L645.65 190.67 Z" stroke="#c9a233" stroke-width="1.1" fill="none" stroke-linejoin="miter"/>
<path d="M620.00 207.14 L620.71 208.87 L622.57 209.01 L621.14 210.21 L621.59 212.03 L620.00 211.04 L618.41 212.03 L618.86 210.21 L617.43 209.01 L619.29 208.87 Z" stroke="#88c6e6" stroke-width="1.1" fill="none" stroke-linejoin="round"/>
<g stroke="#3cc39f" stroke-width="1.1" fill="none"><path d="M654.10 233.87 H665.80 M654.10 231.37 V236.37 M665.80 231.37 V236.37"/></g>
<path d="M659.70 230.87 L662.21 232.37 L662.21 235.37 L659.70 236.87 L657.19 235.37 L657.19 232.37 Z" stroke="#3cc39f" stroke-width="1.1" fill="none" stroke-linejoin="miter"/>
<g stroke="#8a3ea6" stroke-width="1.1" fill="none"><path d="M648.50 252.11 H664.40 M648.50 249.61 V254.61 M664.40 249.61 V254.61"/></g>
<path d="M656.00 249.11 L658.51 250.61 L658.51 253.61 L656.00 255.11 L653.49 253.61 L653.49 250.61 Z" stroke="#8a3ea6" stroke-width="1.1" fill="none" stroke-linejoin="miter"/>
<g stroke="#f78080" stroke-width="1.1" fill="none"><path d="M640.70 270.36 H648.50 M640.70 267.86 V272.86 M648.50 267.86 V272.86"/></g>
<path d="M644.30 267.36 L646.81 268.86 L646.81 271.86 L644.30 273.36 L641.79 271.86 L641.79 268.86 Z" stroke="#f78080" stroke-width="1.1" fill="none" stroke-linejoin="miter"/>
<path d="M623.40 286.73 L625.58 285.40 L626.60 286.42 L625.27 288.60 L626.60 290.78 L625.58 291.80 L623.40 290.47 L621.22 291.80 L620.20 290.78 L621.53 288.60 L620.20 286.42 L621.22 285.40 Z" stroke="#f0b53c" stroke-width="0.9" fill="#f0b53c" fill-opacity="0.85" stroke-linejoin="round"/>
<g stroke="#e0334f" stroke-width="1.1" fill="none"><path d="M736.50 57.50 H777.40 M736.50 55.00 V60.00 M777.40 55.00 V60.00"/></g>
<rect x="754.20" y="54.90" width="5.2" height="5.2" stroke="#e0334f" stroke-width="1.1" fill="none" stroke-linejoin="miter"/>
<path d="M763.50 71.75 L766.00 75.75 L763.50 79.75 L761.00 75.75 Z" stroke="#f7993a" stroke-width="1.1" fill="none" stroke-linejoin="miter"/>
<circle cx="695.40" cy="93.99" r="2.6" stroke="#3a7cc0" stroke-width="1.1" fill="none" stroke-linejoin="miter"/>
<path d="M732.10 109.23 L734.80 114.44 L729.40 114.44 Z" stroke="#2e9e50" stroke-width="0.9" fill="#2e9e50"/>
<line x1="495.56" x2="495.56" y1="302.95" y2="300.75" stroke="#2a2a2a" stroke-width="0.9"/>
<line x1="495.56" x2="495.56" y1="42.9" y2="45.1" stroke="#2a2a2a" stroke-width="0.9"/>
<line x1="505.62" x2="505.62" y1="302.95" y2="300.75" stroke="#2a2a2a" stroke-width="0.9"/>
<line x1="505.62" x2="505.62" y1="42.9" y2="45.1" stroke="#2a2a2a" stroke-width="0.9"/>
<line x1="525.74" x2="525.74" y1="302.95" y2="300.75" stroke="#2a2a2a" stroke-width="0.9"/>
<line x1="525.74" x2="525.74" y1="42.9" y2="45.1" stroke="#2a2a2a" stroke-width="0.9"/>
<line x1="535.80" x2="535.80" y1="302.95" y2="300.75" stroke="#2a2a2a" stroke-width="0.9"/>
<line x1="535.80" x2="535.80" y1="42.9" y2="45.1" stroke="#2a2a2a" stroke-width="0.9"/>
<line x1="545.86" x2="545.86" y1="302.95" y2="300.75" stroke="#2a2a2a" stroke-width="0.9"/>
<line x1="545.86" x2="545.86" y1="42.9" y2="45.1" stroke="#2a2a2a" stroke-width="0.9"/>
<line x1="555.92" x2="555.92" y1="302.95" y2="300.75" stroke="#2a2a2a" stroke-width="0.9"/>
<line x1="555.92" x2="555.92" y1="42.9" y2="45.1" stroke="#2a2a2a" stroke-width="0.9"/>
<line x1="576.04" x2="576.04" y1="302.95" y2="300.75" stroke="#2a2a2a" stroke-width="0.9"/>
<line x1="576.04" x2="576.04" y1="42.9" y2="45.1" stroke="#2a2a2a" stroke-width="0.9"/>
<line x1="515.68" x2="515.68" y1="302.95" y2="299.65" stroke="#2a2a2a" stroke-width="1.1"/>
<line x1="515.68" x2="515.68" y1="42.9" y2="46.199999999999996" stroke="#2a2a2a" stroke-width="1.1"/>
<text x="515.68" y="314.1" font-size="11.8" text-anchor="middle" fill="#1a1a1a">0.75</text>
<line x1="565.98" x2="565.98" y1="302.95" y2="299.65" stroke="#2a2a2a" stroke-width="1.1"/>
<line x1="565.98" x2="565.98" y1="42.9" y2="46.199999999999996" stroke="#2a2a2a" stroke-width="1.1"/>
<text x="565.98" y="314.1" font-size="11.8" text-anchor="middle" fill="#1a1a1a">1.00</text>
<line x1="591.64" x2="591.64" y1="302.95" y2="300.75" stroke="#2a2a2a" stroke-width="0.9"/>
<line x1="591.64" x2="591.64" y1="42.9" y2="45.1" stroke="#2a2a2a" stroke-width="0.9"/>
<line x1="601.12" x2="601.12" y1="302.95" y2="300.75" stroke="#2a2a2a" stroke-width="0.9"/>
<line x1="601.12" x2="601.12" y1="42.9" y2="45.1" stroke="#2a2a2a" stroke-width="0.9"/>
<line x1="620.08" x2="620.08" y1="302.95" y2="300.75" stroke="#2a2a2a" stroke-width="0.9"/>
<line x1="620.08" x2="620.08" y1="42.9" y2="45.1" stroke="#2a2a2a" stroke-width="0.9"/>
<line x1="629.56" x2="629.56" y1="302.95" y2="300.75" stroke="#2a2a2a" stroke-width="0.9"/>
<line x1="629.56" x2="629.56" y1="42.9" y2="45.1" stroke="#2a2a2a" stroke-width="0.9"/>
<line x1="639.04" x2="639.04" y1="302.95" y2="300.75" stroke="#2a2a2a" stroke-width="0.9"/>
<line x1="639.04" x2="639.04" y1="42.9" y2="45.1" stroke="#2a2a2a" stroke-width="0.9"/>
<line x1="648.52" x2="648.52" y1="302.95" y2="300.75" stroke="#2a2a2a" stroke-width="0.9"/>
<line x1="648.52" x2="648.52" y1="42.9" y2="45.1" stroke="#2a2a2a" stroke-width="0.9"/>
<line x1="667.48" x2="667.48" y1="302.95" y2="300.75" stroke="#2a2a2a" stroke-width="0.9"/>
<line x1="667.48" x2="667.48" y1="42.9" y2="45.1" stroke="#2a2a2a" stroke-width="0.9"/>
<line x1="676.96" x2="676.96" y1="302.95" y2="300.75" stroke="#2a2a2a" stroke-width="0.9"/>
<line x1="676.96" x2="676.96" y1="42.9" y2="45.1" stroke="#2a2a2a" stroke-width="0.9"/>
<line x1="610.60" x2="610.60" y1="302.95" y2="299.65" stroke="#2a2a2a" stroke-width="1.1"/>
<line x1="610.60" x2="610.60" y1="42.9" y2="46.199999999999996" stroke="#2a2a2a" stroke-width="1.1"/>
<text x="610.60" y="314.1" font-size="11.8" text-anchor="middle" fill="#1a1a1a">0.25</text>
<line x1="658.00" x2="658.00" y1="302.95" y2="299.65" stroke="#2a2a2a" stroke-width="1.1"/>
<line x1="658.00" x2="658.00" y1="42.9" y2="46.199999999999996" stroke="#2a2a2a" stroke-width="1.1"/>
<text x="658.00" y="314.1" font-size="11.8" text-anchor="middle" fill="#1a1a1a">0.50</text>
<line x1="695.03" x2="695.03" y1="302.95" y2="300.75" stroke="#2a2a2a" stroke-width="0.9"/>
<line x1="695.03" x2="695.03" y1="42.9" y2="45.1" stroke="#2a2a2a" stroke-width="0.9"/>
<line x1="703.42" x2="703.42" y1="302.95" y2="300.75" stroke="#2a2a2a" stroke-width="0.9"/>
<line x1="703.42" x2="703.42" y1="42.9" y2="45.1" stroke="#2a2a2a" stroke-width="0.9"/>
<line x1="720.18" x2="720.18" y1="302.95" y2="300.75" stroke="#2a2a2a" stroke-width="0.9"/>
<line x1="720.18" x2="720.18" y1="42.9" y2="45.1" stroke="#2a2a2a" stroke-width="0.9"/>
<line x1="728.57" x2="728.57" y1="302.95" y2="300.75" stroke="#2a2a2a" stroke-width="0.9"/>
<line x1="728.57" x2="728.57" y1="42.9" y2="45.1" stroke="#2a2a2a" stroke-width="0.9"/>
<line x1="736.95" x2="736.95" y1="302.95" y2="300.75" stroke="#2a2a2a" stroke-width="0.9"/>
<line x1="736.95" x2="736.95" y1="42.9" y2="45.1" stroke="#2a2a2a" stroke-width="0.9"/>
<line x1="745.33" x2="745.33" y1="302.95" y2="300.75" stroke="#2a2a2a" stroke-width="0.9"/>
<line x1="745.33" x2="745.33" y1="42.9" y2="45.1" stroke="#2a2a2a" stroke-width="0.9"/>
<line x1="762.10" x2="762.10" y1="302.95" y2="300.75" stroke="#2a2a2a" stroke-width="0.9"/>
<line x1="762.10" x2="762.10" y1="42.9" y2="45.1" stroke="#2a2a2a" stroke-width="0.9"/>
<line x1="770.48" x2="770.48" y1="302.95" y2="300.75" stroke="#2a2a2a" stroke-width="0.9"/>
<line x1="770.48" x2="770.48" y1="42.9" y2="45.1" stroke="#2a2a2a" stroke-width="0.9"/>
<line x1="778.87" x2="778.87" y1="302.95" y2="300.75" stroke="#2a2a2a" stroke-width="0.9"/>
<line x1="778.87" x2="778.87" y1="42.9" y2="45.1" stroke="#2a2a2a" stroke-width="0.9"/>
<line x1="711.80" x2="711.80" y1="302.95" y2="299.65" stroke="#2a2a2a" stroke-width="1.1"/>
<line x1="711.80" x2="711.80" y1="42.9" y2="46.199999999999996" stroke="#2a2a2a" stroke-width="1.1"/>
<text x="711.80" y="314.1" font-size="11.8" text-anchor="middle" fill="#1a1a1a">0.075</text>
<line x1="753.72" x2="753.72" y1="302.95" y2="299.65" stroke="#2a2a2a" stroke-width="1.1"/>
<line x1="753.72" x2="753.72" y1="42.9" y2="46.199999999999996" stroke="#2a2a2a" stroke-width="1.1"/>
<text x="753.72" y="314.1" font-size="11.8" text-anchor="middle" fill="#1a1a1a">0.100</text>
<line x1="787.4" x2="784.0" y1="57.30" y2="57.30" stroke="#222" stroke-width="1.25"/>
<line x1="787.4" x2="784.0" y1="75.55" y2="75.55" stroke="#222" stroke-width="1.25"/>
<line x1="787.4" x2="784.0" y1="93.79" y2="93.79" stroke="#222" stroke-width="1.25"/>
<line x1="787.4" x2="784.0" y1="112.03" y2="112.03" stroke="#222" stroke-width="1.25"/>
<line x1="787.4" x2="784.0" y1="136.36" y2="136.36" stroke="#222" stroke-width="1.25"/>
<line x1="787.4" x2="784.0" y1="154.61" y2="154.61" stroke="#222" stroke-width="1.25"/>
<line x1="787.4" x2="784.0" y1="172.85" y2="172.85" stroke="#222" stroke-width="1.25"/>
<line x1="787.4" x2="784.0" y1="191.10" y2="191.10" stroke="#222" stroke-width="1.25"/>
<line x1="787.4" x2="784.0" y1="209.34" y2="209.34" stroke="#222" stroke-width="1.25"/>
<line x1="787.4" x2="784.0" y1="233.67" y2="233.67" stroke="#222" stroke-width="1.25"/>
<line x1="787.4" x2="784.0" y1="251.91" y2="251.91" stroke="#222" stroke-width="1.25"/>
<line x1="787.4" x2="784.0" y1="270.16" y2="270.16" stroke="#222" stroke-width="1.25"/>
<line x1="787.4" x2="784.0" y1="288.40" y2="288.40" stroke="#222" stroke-width="1.25"/>
<rect x="485.5" y="42.9" width="301.90" height="260.05" fill="none" stroke="#4a4a4a" stroke-width="1.2"/>
<line x1="586.20" x2="586.20" y1="42.9" y2="302.95" stroke="#1e1e1e" stroke-width="1.2"/>
<line x1="686.65" x2="686.65" y1="42.9" y2="302.95" stroke="#4e5254" stroke-width="1.3"/>
<path d="M406.80 56.70 Q403.60 56.40 403.20 59.90 Q403.20 61.90 406.00 61.40 M403.70 58.90 L405.70 58.70" stroke="#333" stroke-width="0.8" fill="none"/>
<text x="482.90" y="61.50" font-size="11.6" textLength="72.11" lengthAdjust="spacingAndGlyphs" text-anchor="end" fill="#1a1a1a">Expansion [26]</text>
<text x="482.90" y="79.75" font-size="11.6" textLength="76.34" lengthAdjust="spacingAndGlyphs" text-anchor="end" fill="#1a1a1a">Large-N [27-29]</text>
<text x="482.90" y="97.99" font-size="11.6" textLength="44.22" lengthAdjust="spacingAndGlyphs" text-anchor="end" fill="#1a1a1a">FRG [30]</text>
<text x="482.90" y="116.23" font-size="11.6" textLength="36.35" lengthAdjust="spacingAndGlyphs" text-anchor="end" fill="#1a1a1a">CB [31]</text>
<text x="482.90" y="140.56" font-size="11.6" textLength="53.91" lengthAdjust="spacingAndGlyphs" text-anchor="end" fill="#1a1a1a">PQMC [15]</text>
<text x="482.90" y="158.81" font-size="11.6" textLength="61.17" lengthAdjust="spacingAndGlyphs" text-anchor="end" fill="#1a1a1a">CTQMC [32]</text>
<text x="482.90" y="177.05" font-size="11.6" textLength="72.08" lengthAdjust="spacingAndGlyphs" text-anchor="end" fill="#1a1a1a">SSE-QMC [33]</text>
<text x="482.90" y="195.30" font-size="11.6" textLength="53.91" lengthAdjust="spacingAndGlyphs" text-anchor="end" fill="#1a1a1a">PQMC [34]</text>
<text x="482.90" y="213.54" font-size="11.6" textLength="61.17" lengthAdjust="spacingAndGlyphs" text-anchor="end" fill="#1a1a1a">CTQMC [35]</text>
<text x="482.90" y="237.87" font-size="11.6" textLength="64.20" lengthAdjust="spacingAndGlyphs" text-anchor="end" fill="#1a1a1a">FB-QMC [36]</text>
<text x="482.90" y="256.11" font-size="11.6" textLength="64.20" lengthAdjust="spacingAndGlyphs" text-anchor="end" fill="#1a1a1a">FB-QMC [36]</text>
<text x="482.90" y="274.36" font-size="11.6" textLength="53.91" lengthAdjust="spacingAndGlyphs" text-anchor="end" fill="#1a1a1a">PQMC [34]</text>
<text x="482.90" y="292.60" font-size="11.6" textLength="61.17" lengthAdjust="spacingAndGlyphs" text-anchor="end" fill="#1a1a1a">CTQMC [35]</text>
<path d="M533.05 33.0 L534.75 32.6 L533.55 37.9" stroke="#1a1a1a" stroke-width="1.25" fill="none" stroke-linejoin="round"/>
<path d="M533.55 37.9 C536.85 37.2 539.25 35.2 539.05 32.5" stroke="#1a1a1a" stroke-width="1.0" fill="none"/>
<text x="636.42" y="38" font-family="Liberation Serif" font-size="13.5" text-anchor="middle" fill="#1a1a1a"><tspan font-style="italic">η</tspan><tspan font-style="italic" font-size="10" dy="2.3">ϕ</tspan></text>
<text x="737.02" y="38" font-family="Liberation Serif" font-size="13.5" text-anchor="middle" fill="#1a1a1a"><tspan font-style="italic">η</tspan><tspan font-style="italic" font-size="10" dy="2.3">ψ</tspan></text>
<text x="405.4" y="16.1" font-size="14" textLength="238.16" lengthAdjust="spacingAndGlyphs" fill="#111"><tspan font-weight="bold">b</tspan>. N=4 Gross-Neveu-Ising Universality</text>
</svg></body></html>
